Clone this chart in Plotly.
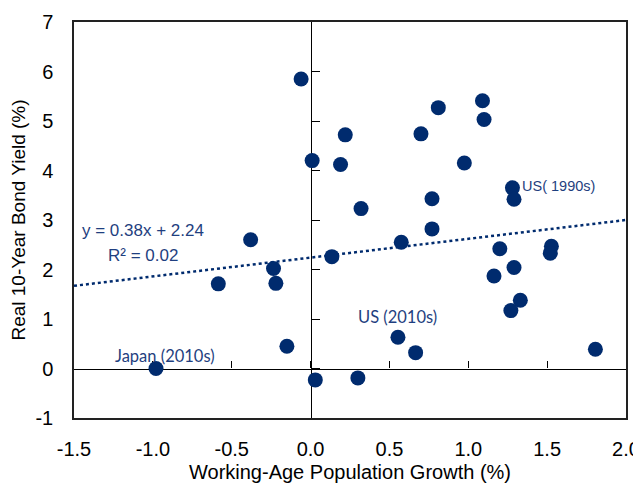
import plotly.graph_objects as go

growth = [-0.06, 0.01, -0.38, 1.09, 1.10, 0.81, 0.70, 0.22, 0.19, 0.975, 1.28, 1.29,
          0.32, 0.77, 0.77, 0.575, 1.20, 1.527, 1.52, -0.235, -0.22, -0.585, -0.15,
          -0.98, 0.03, 0.135, 1.29, 1.163, 1.33, 1.27, 0.554, 0.666, 1.806, 0.30]
yields = [5.85, 4.20, 2.60, 5.41, 5.03, 5.27, 4.74, 4.72, 4.12, 4.15, 3.65, 3.42,
          3.23, 3.43, 2.82, 2.55, 2.42, 2.47, 2.33, 2.02, 1.72, 1.71, 0.45,
          0.00, -0.23, 2.26, 2.04, 1.87, 1.38, 1.17, 0.63, 0.32, 0.39, -0.19]
slope, intercept = 0.38, 2.24
x_range = [-1.5, 2.0]
y_range = [-1, 7]
x_ticks = [-1.5, -1.0, -0.5, 0.0, 0.5, 1.0, 1.5, 2.0]
x_ticklabels = ["-1.5", "-1.0", "-0.5", "0.0", "0.5", "1.0", "1.5", "2.0"]
y_ticks = [-1, 0, 1, 2, 3, 4, 5, 6, 7]
y_ticklabels = ["-1", "0", "1", "2", "3", "4", "5", "6", "7"]

navy = "#002b6e"
txt = "#1f3f80"
sans = "Liberation Sans, Arial"

fig = go.Figure()
fig.add_trace(go.Scatter(
    x=x_range, y=[slope * v + intercept for v in x_range], mode="lines",
    line=dict(color=navy, width=2.5, dash="dot"), hoverinfo="skip", showlegend=False))
fig.add_trace(go.Scatter(
    x=growth, y=yields, mode="markers",
    marker=dict(size=15, color=navy), showlegend=False))
# dummy trace for zero-line axes
fig.add_trace(go.Scatter(x=[None], y=[None], xaxis="x2", yaxis="y2", showlegend=False))

px0 = (0 - x_range[0]) / (x_range[1] - x_range[0])
py0 = (0 - y_range[0]) / (y_range[1] - y_range[0])

fig.update_layout(
    width=633, height=481,
    margin=dict(l=66, r=15, t=14, b=71),
    plot_bgcolor="white", paper_bgcolor="white",
    font=dict(family=sans, color="black"),
    xaxis=dict(range=x_range, tickvals=x_ticks, ticktext=x_ticklabels, automargin=False,
               showgrid=False, zeroline=False, showline=True, mirror=True,
               linecolor="#222", linewidth=1.5, ticks="", ticklabelstandoff=12,
               tickfont=dict(size=20),
               title=dict(text="Working-Age Population Growth (%)", font=dict(size=20), standoff=6)),
    yaxis=dict(range=y_range, tickvals=y_ticks, ticktext=y_ticklabels, automargin=False,
               showgrid=False, zeroline=False, showline=True,
               mirror=True, linecolor="#222", linewidth=1.5, ticks="",
               ticklabelstandoff=15, tickfont=dict(size=20),
               title=dict(text="Real 10-Year Bond Yield (%)", font=dict(size=19), standoff=8)),
    xaxis2=dict(range=x_range, tickvals=x_ticks, overlaying="x", anchor="free",
                position=py0, showgrid=False, zeroline=False, showline=True,
                linecolor="black", linewidth=1.2, ticks="inside", ticklen=7,
                tickcolor="black", showticklabels=False, layer="below traces"),
    yaxis2=dict(range=y_range, tickvals=y_ticks, overlaying="y", anchor="free", position=px0,
                side="left", showgrid=False, zeroline=False, showline=True,
                linecolor="black", linewidth=1.2, ticks="inside", ticklen=8,
                tickcolor="black", showticklabels=False, layer="below traces"),
)

ann = [
    ("y = 0.38x + 2.24", -1.465, 2.78, sans, 17),
    ("R² = 0.02", -1.295, 2.29, sans, 17),
    ("Japan (2010s)", -1.255, 0.26, "Lato, Open Sans", 16.5),
    ("US( 1990s)", 1.325, 3.69, sans, 14.5),
    ("US (2010s)", 0.29, 1.05, "Lato, Open Sans", 16.5),
]
for t, x, y, f, s in ann:
    fig.add_annotation(x=x, y=y, text=t, showarrow=False, xanchor="left", yanchor="middle",
                       font=dict(family=f, size=s, color=txt))

fig.write_html("out.html")
